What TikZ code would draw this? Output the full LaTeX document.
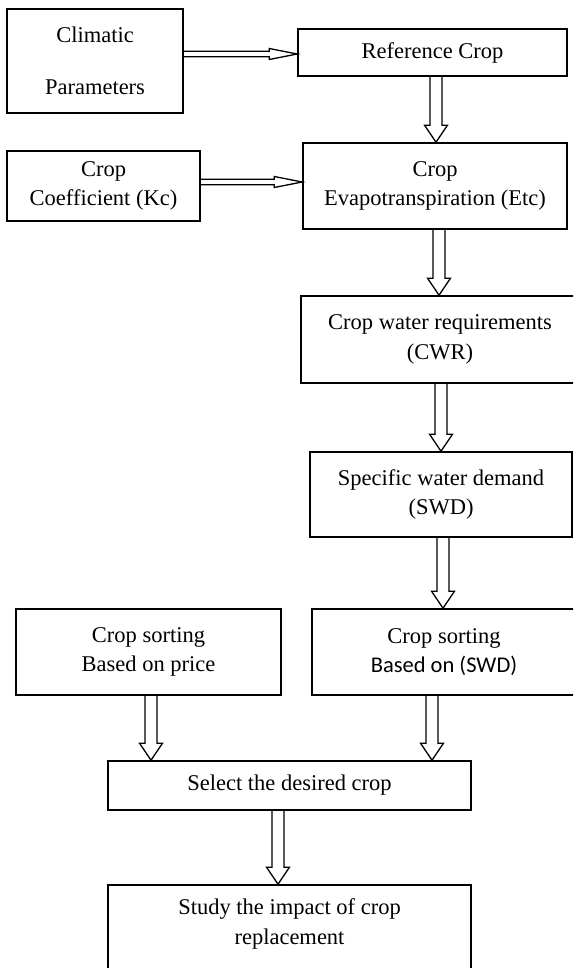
\documentclass[tikz,border=0pt]{standalone}
\usepackage{fontspec}
\setmainfont{Liberation Serif}
\newfontfamily\calibfont{Carlito}
\usetikzlibrary{calc}

\tikzset{
  box/.style={draw, line width=1.6pt, align=center, inner sep=0pt},
  flow/.style={draw, line width=1.3pt, line join=miter},
}

% hollow block arrow, going down from #2 to #3
\newcommand{\downflow}[3][0pt]{%
  \path ([xshift=#1]#2.south) coordinate (fa);
  \path (fa |- #3.north) coordinate (fb);
  \draw[flow] ($(fa)+(-6,0)$) -- ($(fb)+(-6,-17)$) -- ($(fb)+(-11.5,-17)$) -- (fb)
    -- ($(fb)+(11.5,-17)$) -- ($(fb)+(6,-17)$) -- ($(fa)+(6,0)$);
}
% hollow block arrow, going right from #2 to #3
\newcommand{\rightflow}[3][0pt]{%
  \path ([yshift=#1]#2.east) coordinate (fa);
  \path (fa -| #3.west) coordinate (fb);
  \draw[flow] ($(fa)+(0,-2.8)$) -- ($(fb)+(-28,-2.8)$) -- ($(fb)+(-28,-5.5)$) -- (fb)
    -- ($(fb)+(-28,5.5)$) -- ($(fb)+(-28,2.8)$) -- ($(fa)+(0,2.8)$);
}

\begin{document}
\begin{tikzpicture}[x=1pt,y=-1pt,font=\fontsize{22.5}{29.5}\selectfont]
	\useasboundingbox (0,0) rectangle (573,968);
	\clip (0,0) rectangle (573,968);
	\node[box,minimum width=176pt,minimum height=104pt] (clim) at (95,61) {Climatic\\[22pt]Parameters};
	\node[box,minimum width=269pt,minimum height=47pt] (ref) at (432.5,52.5) {Reference Crop};
	\node[box,minimum width=193pt,minimum height=70pt] (kc) at (103.5,186) {Crop\\Coefficient (Kc)};
	\node[box,minimum width=264pt,minimum height=86pt] (evap) at (435,186) {Crop\\Evapotranspiration (Etc)};
	\node[box,minimum width=278pt,minimum height=87pt] (cwr) at (440,339.5) {Crop water requirements\\(CWR)};
	\node[box,minimum width=262pt,minimum height=85pt] (swd) at (441,494.5) {Specific water demand\\(SWD)};
	\node[box,minimum width=265pt,minimum height=86pt] (sortp) at (148.5,652) {Crop sorting\\Based on price};
	\node[box,minimum width=264pt,minimum height=86pt] (sorts) at (444,652) {Crop sorting\\{\calibfont Based on (SWD)}};
	\node[box,minimum width=363pt,minimum height=49pt] (select) at (289.5,785.5) {Select the desired crop};
	\node[box,minimum width=363pt,minimum height=103pt] (study) at (289.5,936.5) {Study the impact of crop\\replacement\\\mbox{}};

	\rightflow[7pt]{clim}{ref}
	\rightflow[4pt]{kc}{evap}
	\downflow[3.5pt]{ref}{evap}
	\downflow[4pt]{evap}{cwr}
	\downflow[1pt]{cwr}{swd}
	\downflow[2pt]{swd}{sorts}
	\downflow[2.5pt]{sortp}{select}
	\downflow[-12pt]{sorts}{select}
	\downflow[-11.5pt]{select}{study}
\end{tikzpicture}
\end{document}
